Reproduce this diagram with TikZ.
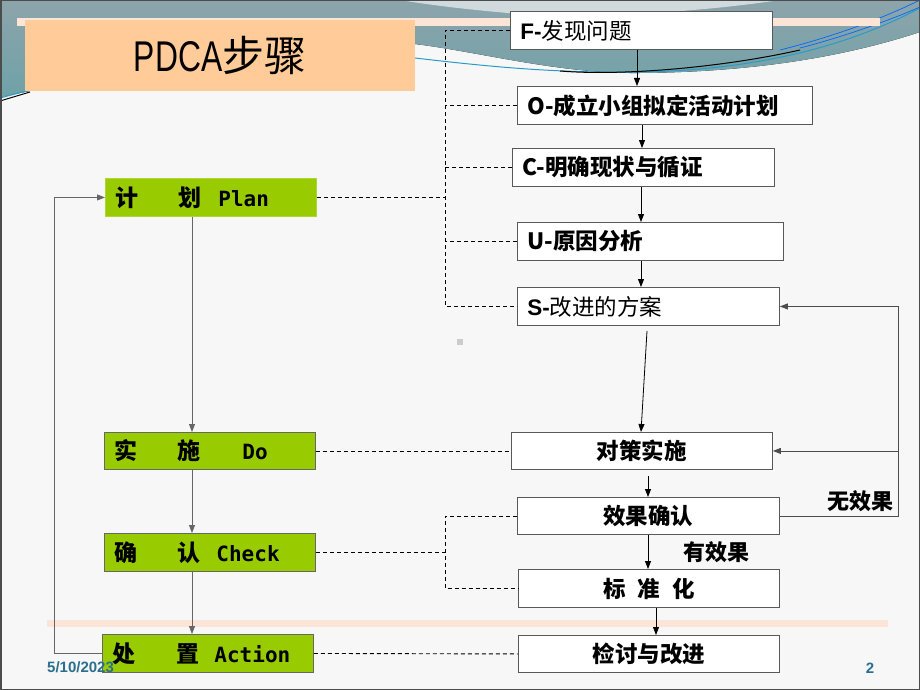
\documentclass[tikz,border=0pt]{standalone}
\usepackage{fontspec}
\usepackage{graphicx}
\setmainfont{Noto Sans CJK SC}
\newfontfamily\cjk{Noto Sans CJK SC}
\newfontfamily\lat{Liberation Sans}
\newfontfamily\gmono{DejaVu Sans Mono}
\usetikzlibrary{arrows.meta}
\definecolor{pdgreen}{HTML}{99CC00}
\definecolor{peach}{HTML}{FFCC99}
\definecolor{peachbar}{HTML}{FCE4D6}
\definecolor{decoA}{HTML}{8DA4AB}
\definecolor{decoB}{HTML}{6EA2A8}
\definecolor{footc}{HTML}{2A6F8E}
\definecolor{bgc}{HTML}{F7F7F7}
\tikzset{
  rbox/.style={draw=black!65, fill=white, line width=0.9pt, minimum height=38pt,
    inner xsep=10pt, inner ysep=0pt, anchor=north west, align=left,
    font=\fontsize{22.5}{24}\selectfont},
  cbox/.style={rbox, align=center, font=\fontsize{22.5}{24}\selectfont\bfseries},
  gbox/.style={draw=black!60, fill=pdgreen, line width=0.9pt, minimum height=38pt,
    inner xsep=10pt, inner ysep=0pt, anchor=north west, align=left, text width=191pt,
    font=\fontsize{23}{24}\selectfont\bfseries},
  dline/.style={line width=0.9pt, dash pattern=on 4pt off 3pt},
  arr/.style={-{Triangle[length=8pt,width=6pt]}, line width=0.8pt},
  garr/.style={arr, draw=black!60},
  lbl/.style={inner sep=0pt, font=\fontsize{22}{24}\selectfont\bfseries},
  foot/.style={inner sep=0pt, text=footc, font=\lat\fontsize{15}{16}\selectfont\bfseries}
}
\newcommand{\gm}[1]{{\gmono\fontsize{21}{24}\selectfont\bfseries #1}}
\begin{document}
\begin{tikzpicture}[x=1pt,y=-1pt]
\useasboundingbox (0,0) rectangle (920,690);
% background
\fill[bgc] (0,0) rectangle (920,690);
% top decoration
\fill[top color=decoA, bottom color=decoB] (0,0) -- (920,0) -- (920,32)
  .. controls (850,55) and (760,72) .. (640,73)
  .. controls (560,74) and (480,52) .. (415,44) -- (300,80) -- (30,91) -- (0,97) -- cycle;
\fill[white, opacity=0.6] (400,0) -- (780,0) .. controls (700,12) and (600,18) .. (520,14)
  .. controls (470,10) and (430,5) .. (400,0) -- cycle;
\draw[cyan!60!teal, line width=1pt] (415,58) .. controls (500,68) and (560,73) .. (640,72)
  .. controls (760,70) and (850,45) .. (920,8);
\draw[black, line width=1pt] (560,71) .. controls (620,76) and (720,68) .. (800,50);
\draw[blue!60!cyan, line width=0.7pt] (780,50) .. controls (840,35) and (890,15) .. (920,0);
\draw[blue!60!cyan, line width=0.7pt] (800,48) .. controls (850,35) and (895,18) .. (920,7);
\draw[black, line width=1pt] (0,101) -- (30,92);
\draw[cyan!60!teal, line width=1pt] (0,98) -- (30,90);
% peach bars
\fill[peachbar] (17,18) rectangle (880,26);
\fill[peachbar] (47,620) rectangle (888,627);
\fill[black!20] (457,339) rectangle (463,345);
% title
\node[fill=peach, minimum width=390pt, minimum height=71pt, inner sep=0pt, anchor=north west] (title) at (25,20)
  {{\lat\fontsize{43}{44}\selectfont\scalebox{0.74}[1]{PDCA}}{\fontsize{42}{44}\selectfont 步骤}};
% right column
\node[rbox, text width=242pt] (f) at (510,11) {{\lat\bfseries F-}发现问题};
\node[rbox, text width=275pt, font=\fontsize{22.5}{24}\selectfont\bfseries] (o) at (517,86) {O-成立小组拟定活动计划};
\node[rbox, text width=242pt, font=\fontsize{22.5}{24}\selectfont\bfseries] (c) at (512,148) {C-明确现状与循证};
\node[rbox, text width=246pt, font=\fontsize{22.5}{24}\selectfont\bfseries] (u) at (517,222) {U-原因分析};
\node[rbox, text width=242pt] (s) at (517,287) {{\lat\bfseries S-}改进的方案};
\node[cbox, text width=241pt, minimum height=37pt] (cd) at (511,432) {对策实施};
\node[cbox, text width=242pt, minimum height=37pt] (xg) at (517,497) {效果确认};
\node[cbox, text width=241pt] (bz) at (518,569) {标\hspace{12pt}准\hspace{12pt}化};
\node[cbox, text width=241pt, minimum height=37pt] (jt) at (518,635) {检讨与改进};
% left column
\node[gbox, draw=pdgreen!80!white] (plan) at (105,178) {\makebox[63pt][l]{计}\makebox[40pt][l]{划}\gm{Plan}};
\node[gbox, minimum height=37pt] (do) at (104,432) {\makebox[63pt][l]{实}\makebox[65pt][l]{施}\gm{Do}};
\node[gbox] (check) at (104,533) {\makebox[63pt][l]{确}\makebox[39pt][l]{认}\gm{Check}};
\node[gbox] (action) at (102,634) {\makebox[64pt][l]{处}\makebox[38pt][l]{置}\gm{Action}};
% labels
\node[lbl] (noeff) at (860,501) {无效果};
\node[lbl] (yeseff) at (716,552) {有效果};
% coordinates
\coordinate (lx) at (192,0);
\coordinate (fbx) at (54,0);
\coordinate (rx) at (898,0);
\coordinate (dx) at (445,0);
% left arrows
\draw[garr] (plan.south -| lx) -- (do.north -| lx);
\draw[garr] (do.south -| lx) -- (check.north -| lx);
\draw[garr] (check.south -| lx) -- (action.north -| lx);
\draw[garr] (action.west) -- (action.west -| fbx) |- (plan.west);
% right arrows
\draw[arr] (f.south -| 637,0) -- (o.north -| 637,0);
\draw[arr] (o.south -| 642,0) -- (c.north -| 642,0);
\draw[arr] (c.south -| 641,0) -- (u.north -| 641,0);
\draw[arr] (u.south -| 641,0) -- (s.north -| 641,0);
\draw[arr] ([yshift=-5pt]s.south -| 647,0) -- (cd.north -| 641,0);
\draw[arr] ([yshift=-6pt]cd.south -| 648,0) -- (xg.north -| 648,0);
\draw[arr] (xg.south -| 648,0) -- (bz.north -| 648,0);
\draw[arr] (bz.south -| 656,0) -- (jt.north -| 656,0);
\draw[arr, draw=black!70] (xg.east) -- (xg.east -| rx) -- (rx |- s.east) -- (s.east);
\draw[arr, draw=black!70] (rx |- cd.east) -- (cd.east);
% dashed
\draw[dline] (plan.east) -- (plan.east -| dx);
\draw[dline] (f.west) -- (f.west -| dx) -- (dx |- s.west) -- (s.west);
\draw[dline] (o.west) -- (o.west -| dx);
\draw[dline] (c.west) -- (c.west -| dx);
\draw[dline] (u.west) -- (u.west -| dx);
\draw[dline] (do.east) -- (cd.west);
\draw[dline] (check.east) -- (check.east -| dx);
\draw[dline] (xg.west) -- (xg.west -| dx) -- (dx |- bz.west) -- (bz.west);
\draw[dline] (action.east) -- (jt.west);
% footer
\node[foot, anchor=west] (date) at (47,667) {5/10/2023};
\node[foot] (page) at (870,668) {2};
% frame
\draw[black!70, line width=1.5pt] (0.75,0.75) rectangle (919.25,689.25);
\end{tikzpicture}
\end{document}
